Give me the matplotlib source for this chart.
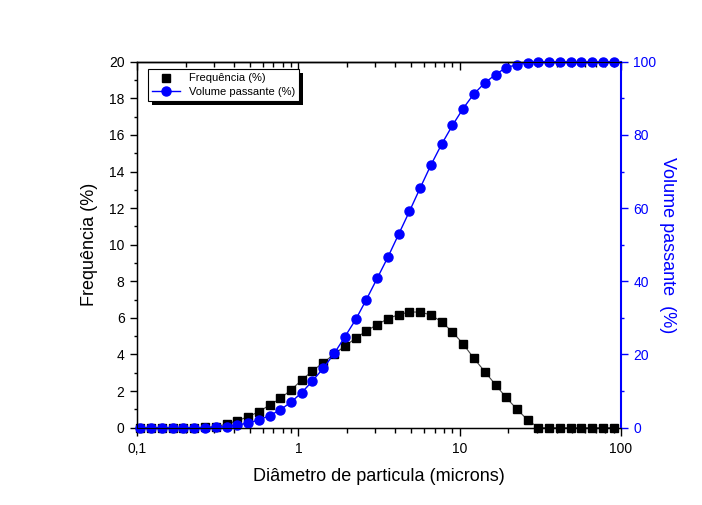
import numpy as np
from matplotlib import pyplot as plt
from matplotlib.ticker import FixedLocator, FuncFormatter, MultipleLocator, LogLocator, NullFormatter
from matplotlib.lines import Line2D
from matplotlib.patches import Rectangle
from matplotlib.transforms import IdentityTransform

plt.rcParams['font.family'] = ['Liberation Sans', 'DejaVu Sans']

# particle diameter (microns)
diametro = [0.105, 0.122, 0.143, 0.167, 0.194, 0.227, 0.264, 0.308, 0.359, 0.419,
            0.488, 0.569, 0.664, 0.774, 0.902, 1.05, 1.22, 1.43, 1.67, 1.94,
            2.27, 2.64, 3.08, 3.59, 4.19, 4.88, 5.69, 6.64, 7.74, 9.02,
            10.5, 12.2, 14.3, 16.7, 19.4, 22.7, 26.4, 30.8, 35.9, 41.9,
            48.8, 56.9, 66.4, 77.4, 90.2]

# frequency (%)
frequencia = [0, 0, 0, 0, 0, 0, 0.02, 0.05, 0.2, 0.38,
              0.6, 0.87, 1.24, 1.6, 2.07, 2.6, 3.1, 3.56, 4.02, 4.46,
              4.89, 5.29, 5.63, 5.96, 6.18, 6.32, 6.32, 6.16, 5.78, 5.23,
              4.58, 3.81, 3.07, 2.34, 1.65, 1.0, 0.42, 0, 0, 0,
              0, 0, 0, 0, 0]

# cumulative passing volume (%)
volume = [0, 0, 0, 0, 0, 0, 0, 0.1, 0.3, 0.7,
          1.3, 2.1, 3.3, 4.9, 7.0, 9.6, 12.7, 16.3, 20.3, 24.8,
          29.6, 35.0, 40.8, 46.6, 52.9, 59.1, 65.5, 71.8, 77.5, 82.6,
          87.2, 91.1, 94.2, 96.5, 98.4, 99.2, 99.7, 100, 100, 100,
          100, 100, 100, 100, 100]

blue = "#0000ff"

fig = plt.figure(figsize=(7.02, 5.05), dpi=100)
ax = fig.add_axes([0.1952, 0.1531, 0.6894, 0.7247])
ax2 = ax.twinx()

# frequency series
ax.plot(diametro, frequencia, color="#444444", linewidth=0.8, zorder=2, clip_on=False)
ax.plot(diametro, frequencia, linestyle="none", marker="s", markersize=6,
        color="black", zorder=3, clip_on=False)

# volume series
ax2.plot(diametro, volume, color=blue, linewidth=1, marker="o", markersize=6.5,
         markeredgecolor=blue, markerfacecolor=blue, clip_on=False)

ax.set_xscale("log")
ax.set_xlim(0.1, 100)
ax.set_ylim(0, 20)
ax2.set_ylim(0, 100)

ax.xaxis.set_major_locator(FixedLocator([0.1, 1, 10, 100]))
ax.xaxis.set_major_formatter(FuncFormatter(lambda v, p: {0.1: "0,1", 1: "1", 10: "10", 100: "100"}.get(round(v, 3), "")))
ax.xaxis.set_minor_locator(LogLocator(base=10, subs=np.arange(2, 10)))
ax.xaxis.set_minor_formatter(NullFormatter())
ax.yaxis.set_major_locator(MultipleLocator(2))
ax.yaxis.set_minor_locator(MultipleLocator(1))
ax2.yaxis.set_major_locator(MultipleLocator(20))
ax2.yaxis.set_minor_locator(MultipleLocator(10))

ax.tick_params(axis="x", which="major", direction="out", length=6, width=1, labelsize=10, pad=4)
ax.tick_params(axis="x", which="minor", direction="out", length=3.5, width=1)
ax.tick_params(axis="y", which="major", direction="out", length=5, width=1, labelsize=10, pad=4, right=False)
ax.tick_params(axis="y", which="minor", direction="out", length=2.5, width=1, right=False)
ax2.tick_params(axis="y", which="major", direction="out", length=5, width=1, labelsize=10, pad=4,
                colors=blue)
ax2.tick_params(axis="y", which="minor", direction="out", length=2.5, width=1, colors=blue)

# top ticks pointing inward
top = ax.secondary_xaxis("top")
top.xaxis.set_major_locator(FixedLocator([0.1, 1, 10, 100]))
top.xaxis.set_minor_locator(LogLocator(base=10, subs=np.arange(2, 10)))
top.tick_params(axis="x", which="major", direction="in", length=6, width=1, labeltop=False)
top.tick_params(axis="x", which="minor", direction="in", length=3.5, width=1)
top.xaxis.set_major_formatter(NullFormatter())
top.xaxis.set_minor_formatter(NullFormatter())
top.spines["top"].set_linewidth(1)

for s in ["left", "bottom", "top"]:
    ax.spines[s].set_linewidth(1)
ax2.spines["right"].set_color(blue)
ax2.spines["right"].set_linewidth(1.5)
ax.spines["right"].set_visible(False)

ax.set_xlabel("Diâmetro de particula (microns)", fontsize=13, labelpad=9)
ax.set_ylabel("Frequência (%)", fontsize=13, labelpad=8)
ax2.set_ylabel("Volume passante  (%)", fontsize=13, color=blue, rotation=270, va="bottom", labelpad=2)

handles = [Line2D([], [], linestyle="none", marker="s", markersize=6, color="black"),
           Line2D([], [], color=blue, linewidth=1, marker="o", markersize=6.5)]
leg = ax2.legend(handles, ["Frequência (%)", "Volume passante (%)"], loc="upper left",
                 bbox_to_anchor=(0.022, 0.98), fontsize=8, frameon=True, fancybox=False,
                 borderpad=0.4, handlelength=2.5, labelspacing=0.3, borderaxespad=0)
leg.get_frame().set_edgecolor("black")
leg.get_frame().set_linewidth(0.8)
leg.get_frame().set_alpha(1)
leg.set_zorder(6)

# solid offset shadow behind the legend box
fig.canvas.draw()
bb = leg.get_window_extent(fig.canvas.get_renderer())
ax2.add_patch(Rectangle((bb.x0 + 4, bb.y0 - 4), bb.width, bb.height, transform=IdentityTransform(),
                        facecolor="black", edgecolor="none", zorder=5.5, clip_on=False))

fig.savefig("out.png", dpi=100)
